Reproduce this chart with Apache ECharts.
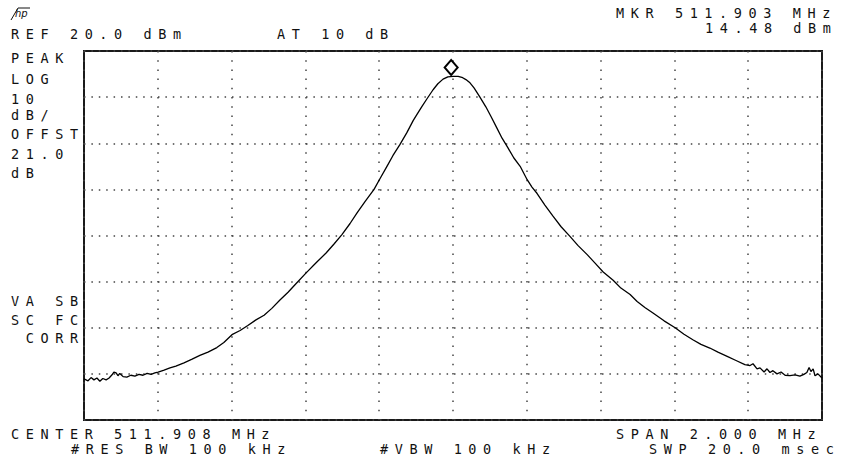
<!DOCTYPE html>
<html>
<head>
<meta charset="utf-8">
<script src="https://cdn.jsdelivr.net/npm/echarts@6/dist/echarts.min.js"></script>
<style>
  html, body { margin: 0; padding: 0; background: #fff; }
  #chart { width: 841px; height: 467px; }
</style>
</head>
<body>
<div id="chart"></div>
<script>
// ---- data (offset from center in kHz, level in dBm) ----
const centerMHz = 511.908;
const spanMHz = 2.000;
const freqOffsetKHz = [
  -1000, -989, -981, -973, -965, -957, -949, -940, -932, -924, -919, -913, -908, -903, -894,
  -884, -873, -862, -851, -840, -829, -818, -808, -799, -783, -767, -751, -729, -707, -686,
  -664, -640, -621, -599, -577, -556, -534, -512, -491, -469, -447, -425, -398, -371, -344,
  -323, -301, -279, -260, -238, -214, -198, -179, -163, -144, -125, -108, -98, -84, -70,
  -54, -41, -27, -14, 0, 14, 24, 35, 46, 57, 73, 89, 103, 117, 133,
  149, 165, 182, 201, 214, 228, 249, 271, 293, 317, 339, 363, 385, 407, 434,
  455, 480, 499, 520, 542, 572, 602, 626, 650, 672, 696, 718, 743, 767, 791,
  805, 813, 824, 832, 843, 851, 859, 867, 878, 889, 900, 913, 927, 940, 951,
  959, 965, 970, 976, 981, 989, 1000
];
const levelDbm = [
  -51.1, -51.5, -50.8, -51.3, -50.9, -51.6, -51.0, -51.3, -50.9, -50.2, -49.6, -49.8, -50.4, -49.9, -50.6,
  -50.7, -50.3, -50.5, -50.1, -50.3, -49.9, -50.1, -49.8, -49.6, -49.2, -48.7, -48.3, -47.6, -46.8, -46.0,
  -45.3, -44.3, -43.2, -41.5, -40.6, -39.5, -38.3, -37.3, -35.8, -34.0, -32.3, -30.4, -28.1, -25.9, -23.8,
  -21.9, -19.8, -17.4, -15.1, -12.6, -10.0, -7.7, -5.0, -2.7, -0.3, 2.3, 4.9, 6.2, 8.0, 9.7,
  11.6, 12.9, 13.9, 14.4, 14.5, 14.5, 14.3, 13.8, 13.1, 12.0, 10.0, 7.9, 5.8, 3.6, 1.1,
  -1.0, -3.2, -5.0, -7.9, -9.5, -10.9, -13.4, -15.8, -18.1, -20.2, -22.2, -24.1, -26.0, -27.9, -29.7,
  -31.4, -32.8, -34.3, -35.6, -36.8, -38.5, -40.0, -41.4, -42.6, -43.6, -44.4, -45.3, -46.2, -47.1, -48.0,
  -48.2, -47.8, -48.9, -48.7, -49.6, -48.9, -49.7, -49.3, -50.0, -49.6, -50.3, -50.4, -50.2, -50.5, -50.1,
  -49.7, -48.6, -49.5, -48.9, -50.4, -50.0, -50.9
];
const markerOffsetKHz = -5;
const markerLevel = 14.48;

// ---- annotation texts ----
const topLeftText = ["REF 20.0 dBm"];
const topMidText = ["AT 10 dB"];
const topRightText = ["MKR 511.903 MHz", "14.48 dBm"];
const sideTopText = ["PEAK", "LOG", "10", "dB/", "OFFST", "21.0", "dB"];
const sideBottomText = ["VA SB", "SC FC", " CORR"];
const bottomLeftText = ["CENTER 511.908 MHz", "#RES BW 100 kHz"];
const bottomMidText = ["#VBW 100 kHz"];
const bottomRightText = ["SPAN 2.000 MHz", "SWP 20.0 msec"];

const FONT = '13.5px "DejaVu Sans Mono", "Liberation Mono", monospace';
const SPACING = 6.6;
function txt(s, x, y) {
  return {
    type: 'text', x: x, y: y, silent: true,
    style: { text: s, font: FONT, fill: '#111', textAlign: 'left', textVerticalAlign: 'middle' }
  };
}

const graphics = [];
graphics.push(txt(topRightText[0], 616, 13));
graphics.push(txt(topRightText[1], 705, 27.5));
graphics.push(txt(topLeftText[0], 11, 33.5));
graphics.push(txt(topMidText[0], 277, 33.5));
const sideY = [58.3, 79.3, 99.3, 115, 133.7, 153.8, 173.3];
sideTopText.forEach((s, i) => graphics.push(txt(s, 11, sideY[i])));
const sideY2 = [301, 319.5, 338];
sideBottomText.forEach((s, i) => graphics.push(txt(s, 11, sideY2[i])));
graphics.push(txt(bottomLeftText[0], 11, 434));
graphics.push(txt(bottomLeftText[1], 71, 449));
graphics.push(txt(bottomMidText[0], 380, 449));
graphics.push(txt(bottomRightText[0], 616, 434));
graphics.push(txt(bottomRightText[1], 649, 449));
// small HP logo
graphics.push({
  type: 'text', x: 15, y: 13, silent: true,
  style: { text: 'hp', font: 'italic 10px "DejaVu Sans"', fill: '#111', textAlign: 'left', textVerticalAlign: 'middle' }
});
graphics.push({
  type: 'polyline', silent: true,
  shape: { points: [[11, 20], [18, 8], [30, 8]] },
  style: { stroke: '#111', lineWidth: 1, fill: null }
});

const chart = echarts.init(document.getElementById('chart'), null, { renderer: 'svg', width: 841, height: 467 });
chart.setOption({
  animation: false,
  backgroundColor: '#fff',
  grid: { left: 84, right: 19, top: 51, bottom: 47, show: true, borderColor: '#1a1a1a', borderWidth: 2, backgroundColor: 'transparent' },
  xAxis: {
    type: 'value', min: -1000, max: 1000, interval: 200,
    axisLabel: { show: false }, axisTick: { show: false }, axisLine: { show: false },
    splitLine: { show: true, lineStyle: { color: '#444', width: 1.5, type: [1.5, 7.7] } }
  },
  yAxis: {
    type: 'value', min: -60, max: 20, interval: 10,
    axisLabel: { show: false }, axisTick: { show: false }, axisLine: { show: false },
    splitLine: { show: true, lineStyle: { color: '#444', width: 1.5, type: [1.5, 5.9] } }
  },
  series: [{
    type: 'line',
    data: freqOffsetKHz.map((f, i) => [f, levelDbm[i]]),
    showSymbol: false,
    lineStyle: { color: '#000', width: 1.3 },
    silent: true,
    markPoint: {
      silent: true,
      symbol: 'diamond',
      symbolSize: [13, 15],
      symbolOffset: [0, -9],
      itemStyle: { color: '#fff', borderColor: '#000', borderWidth: 2 },
      label: { show: false },
      data: [{ coord: [markerOffsetKHz, markerLevel] }]
    }
  }],
  graphic: graphics
});

// widen the character pitch to match the instrument's monospaced screen font
document.querySelectorAll('#chart svg text').forEach(t => {
  if (t.textContent.length > 0 && t.textContent !== 'hp') {
    t.setAttribute('letter-spacing', String(SPACING));
    t.style.letterSpacing = SPACING + 'px';
  }
});
</script>
</body>
</html>
